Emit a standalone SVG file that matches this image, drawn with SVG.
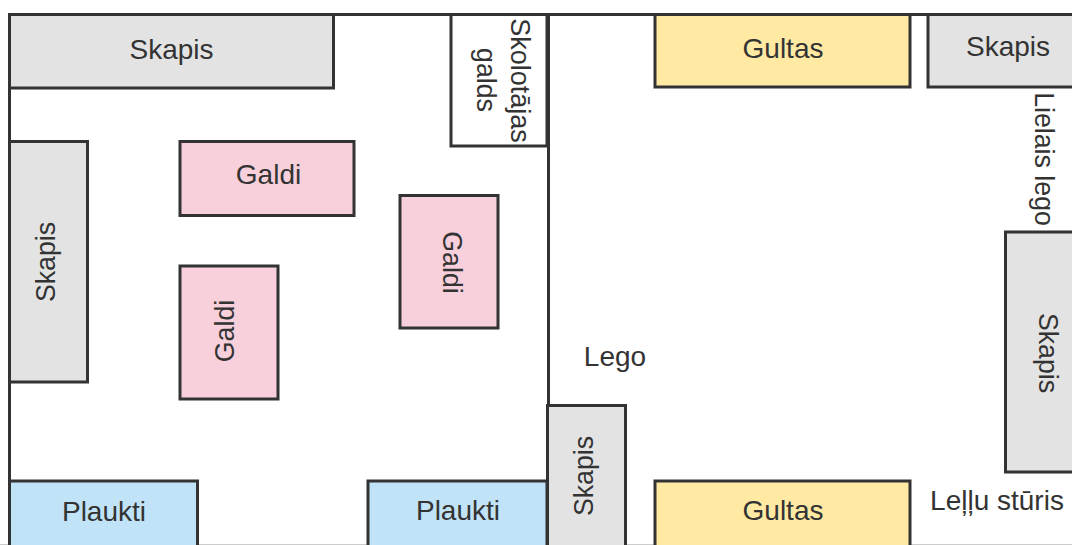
<svg xmlns="http://www.w3.org/2000/svg" width="1072" height="545" viewBox="0 0 1072 545">
<style>
.r{stroke:#333;stroke-width:3}
.g{fill:#e3e3e3}.p{fill:#f8d0dc}.b{fill:#c1e3f7}.y{fill:#ffe9a3}.w{fill:#fff}
text{font-family:"Liberation Sans",Arial,sans-serif;font-size:28px;fill:#333;text-anchor:middle}
.wall{stroke:#333;stroke-width:3;fill:none}
</style>
<rect width="1072" height="545" fill="#fff"/>
<g id="connectors">
<path class="wall" d="M9.500 89V14.500H1072"/>
<path class="wall" d="M9.500 89V481"/>
<path class="wall" d="M548.500 14V405"/>
<path d="M0 544.500H1072" stroke="#ccc" stroke-width="1" fill="none"/>
</g>
<g id="skapis-top"><rect class="r g" x="9.500" y="14.500" width="324" height="73.500"/><text x="171.500" y="59">Skapis</text></g>
<g id="skolotajas"><rect class="r w" x="451" y="14.500" width="96" height="131.500"/><text transform="translate(511,80.500) rotate(90) scale(.965,1)">Skolotājas</text><text transform="translate(477,80) rotate(90) scale(.955,1)">galds</text></g>
<g id="gultas-top"><rect class="r y" x="655" y="14.500" width="255" height="72.500"/><text x="783" y="58">Gultas</text></g>
<g id="skapis-tr"><rect class="r g" x="928" y="14.500" width="150" height="72.500"/><text x="1008" y="56">Skapis</text></g>
<g id="lielais"><text transform="translate(1035,159) rotate(90) scale(.955,1)">Lielais lego</text></g>
<g id="galdi1"><rect class="r p" x="180" y="141.500" width="174" height="74"/><text x="268.500" y="184">Galdi</text></g>
<g id="galdi2"><rect class="r p" x="180" y="266" width="98" height="133"/><text transform="translate(234,331) rotate(-90) scale(.955,1)">Galdi</text></g>
<g id="galdi3"><rect class="r p" x="400" y="195.500" width="98" height="132.500"/><text transform="translate(443,262.500) rotate(90) scale(.955,1)">Galdi</text></g>
<g id="skapis-left"><rect class="r g" x="9.500" y="141.500" width="78" height="240.500"/><text transform="translate(55,262) rotate(-90) scale(.955,1)">Skapis</text></g>
<g id="lego"><text x="615" y="366">Lego</text></g>
<g id="skapis-right"><rect class="r g" x="1005.500" y="232" width="80" height="240"/><text transform="translate(1039,353) rotate(90) scale(.955,1)">Skapis</text></g>
<g id="skapis-mid"><rect class="r g" x="547.500" y="405.500" width="78" height="150"/><text transform="translate(593,476) rotate(-90) scale(.955,1)">Skapis</text></g>
<g id="plaukti1"><rect class="r b" x="9.500" y="481" width="188" height="70"/><text x="104" y="521">Plaukti</text></g>
<g id="plaukti2"><rect class="r b" x="368" y="481" width="179" height="70"/><text x="458" y="520">Plaukti</text></g>
<g id="gultas-bot"><rect class="r y" x="655" y="481" width="255" height="70"/><text x="783" y="520">Gultas</text></g>
<g id="lellu"><text x="997" y="510">Leļļu stūris</text></g>
</svg>
